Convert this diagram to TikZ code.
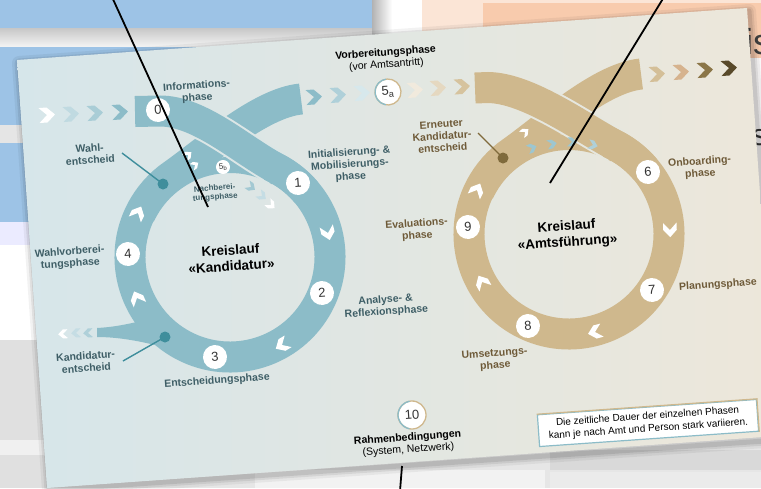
\documentclass[tikz,border=0pt]{standalone}
\usepackage{fontspec}
\setmainfont{Liberation Sans}
\usetikzlibrary{calc}
\definecolor{tealband}{HTML}{8CBCC8}
\definecolor{tealdark}{HTML}{3F8E9C}
\definecolor{tealtxt}{HTML}{3E5E66}
\definecolor{tanband}{HTML}{CFB88D}
\definecolor{browntxt}{HTML}{6E5A38}
\definecolor{browndot}{HTML}{7F6A3C}
\definecolor{cardL}{HTML}{D6E6EA}
\definecolor{cardR}{HTML}{EDE7DA}
\definecolor{numgray}{HTML}{333333}
\definecolor{bggray}{HTML}{E6E6E6}
\definecolor{bgblue}{HTML}{9DC3E6}
\definecolor{peachL}{HTML}{FBE5D6}
\definecolor{peachD}{HTML}{F8CBAD}
\tikzset{
  chev/.pic={\fill[pic actions] (-8,-7.5) -- (0,-7.5) -- (8,0) -- (0,7.5) -- (-8,7.5) -- (0,0) -- cycle;},
  lbl/.style={font=\fontsize{10.5}{12}\selectfont\bfseries, align=center, rotate=4, inner sep=0pt},
  tlbl/.style={lbl, text=tealtxt},
  blbl/.style={lbl, text=browntxt},
  ttl/.style={font=\fontsize{13.5}{16}\selectfont\bfseries, align=center, rotate=4, inner sep=0pt},
  marker/.style={circle, fill=white, minimum size=24pt, inner sep=0pt, font=\fontsize{13}{13}\selectfont, text=numgray, rotate=4},
  tband/.style={draw=tealband, line width=31pt},
  bband/.style={draw=tanband, line width=31pt},
  pointer/.style={line width=1.8pt, draw=black},
  dotn/.style={circle, minimum size=11pt, inner sep=0pt},
  dotline/.style={line width=1.4pt},
}
\begin{document}
\begin{tikzpicture}[x=1pt,y=-1pt]
\useasboundingbox (0,0) rectangle (761,488);
% ---------- background ----------
\fill[bggray] (0,0) rectangle (761,488);
\fill[bgblue] (0,0) rectangle (372,28);
\shade[top color=black!22, bottom color=black!4] (0,28) rectangle (372,47);
\fill[bgblue] (0,47) rectangle (372,130);
\fill[black!10] (0,125) rectangle (40,143);
\fill[bgblue] (0,143) rectangle (40,222);
\fill[blue!8!white] (0,222) rectangle (40,245);
\fill[white] (0,245) rectangle (40,340);
\fill[black!12] (0,340) rectangle (50,488);
\fill[black!6] (0,440) rectangle (50,455);
\shade[left color=black!30, right color=white] (372,0) rectangle (392,60);
\fill[white] (392,0) rectangle (422,60);
\fill[peachL] (422,0) rectangle (761,62);
\fill[peachD] (483,3) rectangle (761,58);
\fill[peachL!70!black!8] (740,58) rectangle (761,260);
\fill[black!5] (255,470) rectangle (545,488);
\fill[black!15] (550,450) rectangle (761,470);
\fill[black!8] (550,472) rectangle (761,488);
\node[anchor=west, font=\fontsize{36}{36}\selectfont, text=black!75, inner sep=0pt] (ghost1) at (745,42) {is};
\node[anchor=west, font=\fontsize{30}{30}\selectfont, text=black!80, inner sep=0pt] (ghost2) at (752,138) {s};
% ---------- card ----------
\foreach \w/\o in {14/0.05, 9/0.07, 5/0.09}{
  \draw[line width=\w pt, black, opacity=\o, line join=round] (19,63) -- (749,11) -- (779,440) -- (49,490) -- cycle;
}
\shade[left color=cardL, right color=cardR] (17,60) -- (747,8) -- (777,436) -- (47,488) -- cycle;
% ---------- left loop (Kandidatur) ----------
\coordinate (C1) at (230,257);
\draw[draw=tealband, line width=16pt] ($(C1)+(205:92)$) arc[start angle=205, end angle=300, radius=92];
\draw[tband] ($(C1)+(-62:100)$) arc[start angle=-62, end angle=235, radius=100]
  .. controls +(32.8,-23) and (260,102.8) .. (301,99);
\fill[tealband] (97,328) .. controls (115,327) and (128,324) .. (141,321) -- (163,347)
  .. controls (140,341) and (118,337) .. (97,337) -- cycle;
\draw[draw=cardL!75!cardR, line width=35pt] (135,111.5) -- (160,111) .. controls (200,111) and (241.6,150) .. (276.9,168.7);
\draw[tband] ($(C1)+(-66:100)$) arc[start angle=-66, end angle=-40, radius=100];
\draw[tband] (135,111.5) -- (160,111) .. controls (200,111) and (241.6,150) .. (276.9,168.7);
% tail chevrons left
\pic[fill=white, rotate=4] at (47,115) {chev};
\pic[fill=tealband!55!white, rotate=4] at (71,114) {chev};
\pic[fill=tealband!75!white, rotate=4] at (95,113) {chev};
\pic[fill=tealband, rotate=4] at (120,112) {chev};
\pic[fill=tealband, rotate=4] at (314,97) {chev};
\pic[fill=tealband!70!white, rotate=4] at (338,95) {chev};
\pic[fill=tealband!35!white, rotate=4] at (362,93) {chev};
% Kandidatur branch chevrons
\pic[fill=white, rotate=184, scale=0.6] at (63,334) {chev};
\pic[fill=tealband!50!white, rotate=184, scale=0.6] at (76,333) {chev};
\pic[fill=tealband!70!white, rotate=184, scale=0.6] at (88,333) {chev};
% ring chevrons
\pic[fill=white, rotate=-76, scale=0.9] at (328,233) {chev};
\pic[fill=white, rotate=-149, scale=0.9] at (282,345) {chev};
\pic[fill=white, rotate=114, scale=0.9] at (137,298) {chev};
\pic[fill=white, rotate=64, scale=0.9] at (138,213) {chev};
\pic[fill=white, rotate=40, scale=0.55] at (188,155) {chev};
\pic[fill=white, rotate=35, scale=0.5] at (195,165) {chev};
% 5b chevrons
\pic[fill=tealband!80!white, rotate=-35, scale=0.6] at (251,187) {chev};
\pic[fill=tealband!50!white, rotate=-38, scale=0.6] at (262,196) {chev};
\pic[fill=white, rotate=-42, scale=0.6] at (271,205) {chev};
% ---------- right loop (Amtsfuehrung) ----------
\coordinate (C2) at (569,234);
\draw[draw=tanband, line width=16pt] ($(C2)+(205:92)$) arc[start angle=205, end angle=300, radius=92];
\draw[bband] ($(C2)+(-62:100)$) arc[start angle=-62, end angle=235, radius=100]
  .. controls +(32.8,-23) and (600,77.8) .. (641,74);
\draw[draw=cardL!30!cardR, line width=35pt] (475,88) -- (488,87.5) .. controls (528,88) and (580.6,126.9) .. (615.9,145.7);
\draw[bband] ($(C2)+(-66:100)$) arc[start angle=-66, end angle=-40, radius=100];
\draw[bband] (475,88) -- (488,87.5) .. controls (528,88) and (580.6,126.9) .. (615.9,145.7);
% tail chevrons right
\pic[fill=tanband!30!white, rotate=4] at (415,90) {chev};
\pic[fill=tanband!55!white, rotate=4] at (438,88) {chev};
\pic[fill=tanband!85!white, rotate=4] at (462,86.5) {chev};
\pic[fill=tanband!90!white, rotate=4] at (657,74) {chev};
\pic[fill=tanband!70!black!10!brown!60, rotate=4] at (681,72) {chev};
\pic[fill=browndot!85!tanband, rotate=4] at (705,70) {chev};
\pic[fill=browndot!70!black, rotate=4] at (729,68) {chev};
% ring chevrons right
\pic[fill=white, rotate=-88, scale=0.9] at (670,230) {chev};
\pic[fill=white, rotate=-165, scale=0.9] at (595,332) {chev};
\pic[fill=white, rotate=119, scale=0.9] at (482,282) {chev};
\pic[fill=white, rotate=64, scale=0.9] at (477,190) {chev};
\pic[fill=white, rotate=40, scale=0.55] at (525,132) {chev};
% blue chevrons inside
\pic[fill=tealband!85!white, rotate=23, scale=0.6] at (532,148) {chev};
\pic[fill=tealband!85!white, rotate=11, scale=0.6] at (552,144) {chev};
\pic[fill=tealband!85!white, rotate=-2, scale=0.6] at (572,142) {chev};
\pic[fill=tealband!70!white, rotate=-15, scale=0.6] at (593,145) {chev};
% ---------- dots with leader lines ----------
\node[dotn, fill=tealdark] (d1) at (163,184) {};
\coordinate (d1e) at (122,153);
\draw[dotline, tealdark] (d1.center) -- (d1e);
\node[dotn, fill=tealdark] (d2) at (165,337) {};
\coordinate (d2e) at (123,361);
\draw[dotline, tealdark] (d2.center) -- (d2e);
\node[dotn, fill=browndot] (d3) at (503,158) {};
\coordinate (d3e) at (478,133);
\draw[dotline, browndot] (d3.center) -- (d3e);
% ---------- markers ----------
\node[marker] (m0) at (158,110) {0};
\node[marker] (m1) at (298,183) {1};
\node[marker] (m2) at (322,293) {2};
\node[marker] (m3) at (215,357) {3};
\node[marker] (m4) at (128,254) {4};
\node[marker, minimum size=14pt, font=\fontsize{8}{8}\selectfont] (m5b) at (223,167) {5\textsubscript{b}};
\node[marker, minimum size=26pt, draw=tanband, line width=1.3pt] (m5a) at (388,92) {5\textsubscript{a}};
\draw[tealband, line width=1.3pt] ($(m5a.center)+(100:13)$) arc[start angle=100, end angle=260, radius=13];
\node[marker] (m6) at (648,172) {6};
\node[marker] (m7) at (652,290) {7};
\node[marker] (m8) at (528,326) {8};
\node[marker] (m9) at (468,227) {9};
\node[marker, minimum size=28pt, draw=tanband, line width=1.3pt] (m10) at (412,415) {10};
\draw[tealband, line width=1.3pt] ($(m10.center)+(100:14)$) arc[start angle=100, end angle=260, radius=14];
% ---------- labels ----------
\node[tlbl] (linfo) at (197,92) {Informations-\\phase};
\node[tlbl] (lwahl) at (90,154) {Wahl-\\entscheid};
\node[tlbl] (linit) at (350,165) {Initialisierung- \&\\Mobilisierungs-\\phase};
\node[tlbl, font=\fontsize{8}{9}\selectfont\bfseries] (lnach) at (215,193) {Nachberei-\\tungsphase};
\node[tlbl] (lwvor) at (70,258) {Wahlvorberei-\\tungsphase};
\node[tlbl] (lanal) at (386,306) {Analyse- \&\\Reflexionsphase};
\node[tlbl] (lkand) at (86,362) {Kandidatur-\\entscheid};
\node[tlbl] (lents) at (217,381) {Entscheidungsphase};
\node[blbl] (lern) at (442,136) {Erneuter\\Kandidatur-\\entscheid};
\node[blbl] (lonb) at (700,168) {Onboarding-\\phase};
\node[blbl] (leval) at (417,230) {Evaluations-\\phase};
\node[blbl] (lplan) at (718,285) {Planungsphase};
\node[blbl] (lums) at (495,360) {Umsetzungs-\\phase};
\node[lbl, text=black] (lvorb) at (386,59) {Vorbereitungsphase\\{\mdseries (vor Amtsantritt)}};
\node[lbl, text=black] (lrahm) at (408,444) {Rahmenbedingungen\\{\mdseries (System, Netzwerk)}};
\node[ttl] (tkand) at (231,258) {Kreislauf\\«Kandidatur»};
\node[ttl] (tamt) at (567,235) {Kreislauf\\«Amtsführung»};
\node[rotate=4, fill=white, draw=tealband, line width=1.2pt, align=center, font=\fontsize{10}{12.5}\selectfont, inner xsep=10pt, inner ysep=5pt] (note) at (648,423) {Die zeitliche Dauer der einzelnen Phasen\\kann je nach Amt und Person stark variieren.};
\draw[tanband, line width=1.2pt] (note.north west) -- (note.north east) -- (note.south east);
% ---------- pointer lines ----------
\coordinate (p1a) at (112,-3);
\coordinate (p1b) at (208,207);
\draw[pointer] (p1a) -- (p1b);
\coordinate (p2a) at (664,-3);
\coordinate (p2b) at (550,183);
\draw[pointer] (p2a) -- (p2b);
\coordinate (p3a) at (402,466);
\coordinate (p3b) at (400,491);
\draw[pointer] (p3a) -- (p3b);
\end{tikzpicture}
\end{document}
